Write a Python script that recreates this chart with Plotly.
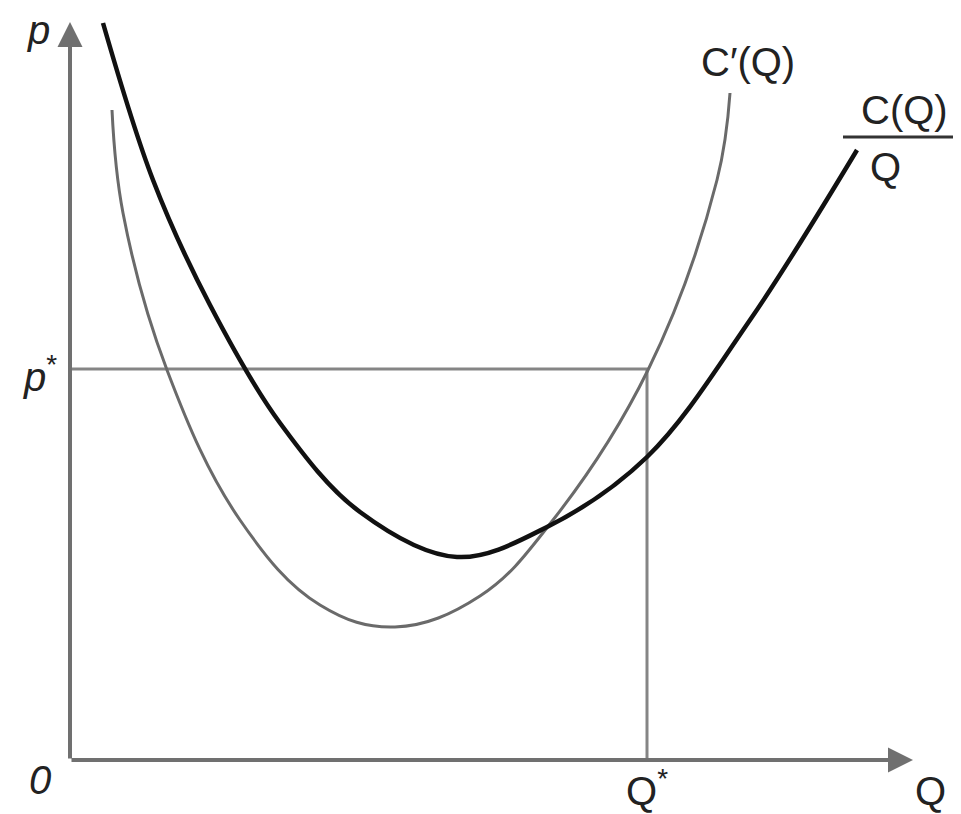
import plotly.graph_objects as go

# average cost curve C(Q)/Q  (Q, p)
avg_q = [3.3, 8.3, 14.0, 21.0, 29.0, 38.7, 47.7, 57.7, 68.0, 78.7]
avg_p = [73.7, 58.0, 45.5, 33.7, 24.8, 20.3, 23.3, 30.3, 44.0, 61.0]

# marginal cost curve C'(Q)
mc_q = [4.2, 5.3, 9.7, 17.0, 25.0, 32.5, 41.0, 48.3, 57.8, 64.7, 66.0]
mc_p = [65.0, 54.7, 39.0, 24.0, 15.5, 13.3, 16.4, 24.0, 39.0, 58.0, 66.7]

q_star = 57.7
p_star = 39.1
q_max = 84.3
p_max = 73.8

FONT = "Liberation Sans, Arial, sans-serif"
AXIS_COL = "#707070"

fig = go.Figure()

# guide lines to p* and Q*
fig.add_trace(go.Scatter(x=[0, q_star, q_star], y=[p_star, p_star, 0], mode="lines",
                         line=dict(color="#858585", width=3), hoverinfo="skip"))

fig.add_trace(go.Scatter(x=mc_q, y=mc_p, mode="lines",
                         line=dict(color="#6a6a6a", width=3, shape="spline", smoothing=1.1),
                         name="C'(Q)"))
fig.add_trace(go.Scatter(x=avg_q, y=avg_p, mode="lines",
                         line=dict(color="#111111", width=4.5, shape="spline", smoothing=1.0),
                         name="C(Q)/Q"))

# axes with arrow heads
for tx, ty in [(0, p_max), (q_max, 0)]:
    fig.add_annotation(x=tx, y=ty, ax=0, ay=0, xref="x", yref="y", axref="x", ayref="y",
                       text="", showarrow=True, arrowhead=2, arrowsize=1.25,
                       arrowwidth=4, arrowcolor=AXIS_COL)

labels = [
    (-3.2, 73.0, "<i>p</i>"),
    (-3.0, 38.6, "<i>p</i><sup>*</sup>"),
    (-3.0, -2.0, "<i>0</i>"),
    (q_star, -2.8, "Q<sup>*</sup>"),
    (86.0, -3.1, "Q"),
    (67.8, 69.8, "C′(Q)"),
    (83.4, 65.0, "C(Q)"),
    (81.5, 59.3, "Q"),
]
for lx, ly, txt in labels:
    fig.add_annotation(x=lx, y=ly, xref="x", yref="y", text=txt, showarrow=False,
                       font=dict(family=FONT, size=40, color="#222222"))

# fraction bar
fig.add_shape(type="line", x0=77.3, x1=89.1, y0=62.3, y1=62.3, xref="x", yref="y",
              line=dict(color="#333333", width=3))

# page body adds 8px margin, so the figure is 8px smaller on each axis
fig.update_layout(
    width=953, height=806,
    margin=dict(l=0, r=0, t=0, b=0),
    paper_bgcolor="white", plot_bgcolor="white",
    showlegend=False,
    xaxis=dict(range=[-6.2, 89.1], visible=False, fixedrange=True),
    yaxis=dict(range=[-5.4, 75.2], visible=False, fixedrange=True),
)

fig.write_html("out.html")
